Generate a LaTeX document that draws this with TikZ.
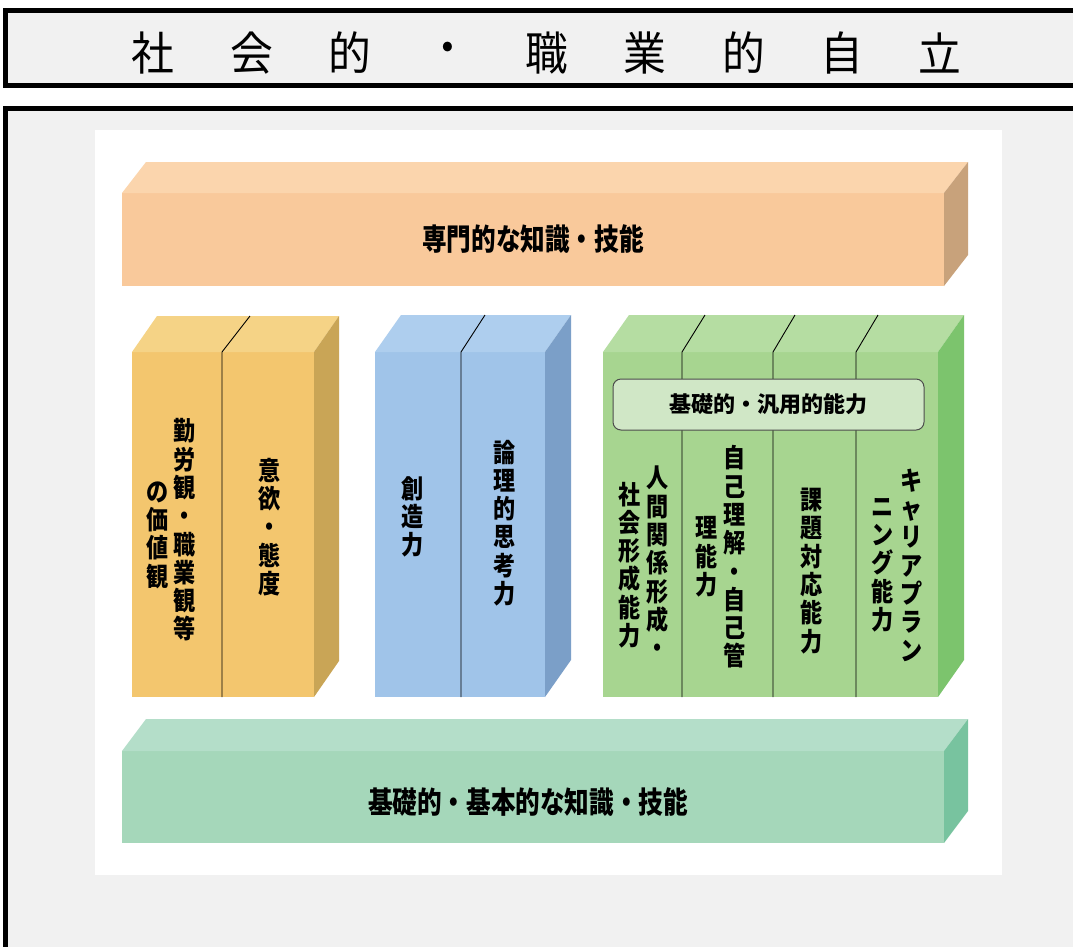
\documentclass[tikz,border=0pt]{standalone}
\usepackage{fontspec}
\newfontfamily\jp{Noto Sans CJK JP}
\definecolor{panelgray}{HTML}{F1F1F1}
\definecolor{orF}{HTML}{F9C99B}\definecolor{orT}{HTML}{FBD5AD}\definecolor{orS}{HTML}{C8A27B}
\definecolor{yeF}{HTML}{F3C66E}\definecolor{yeT}{HTML}{F5D386}\definecolor{yeS}{HTML}{C9A556}
\definecolor{blF}{HTML}{A0C4E9}\definecolor{blT}{HTML}{AECEEE}\definecolor{blS}{HTML}{7B9FC8}
\definecolor{grF}{HTML}{A7D590}\definecolor{grT}{HTML}{B5DDA2}\definecolor{grS}{HTML}{7CC46D}
\definecolor{bgF}{HTML}{A5D7BA}\definecolor{bgT}{HTML}{B4DEC9}\definecolor{bgS}{HTML}{78C39F}
\definecolor{boxF}{HTML}{D0E7C6}
% #1 x1, #2 y1, #3 x2, #4 y2, #5 dx, #6 dy, #7 front, #8 top, #9 side
\newcommand\drawblock[9]{%
  \fill[#7] (#1,#2) rectangle (#3,#4);
  \fill[#8] (#1,#2) -- ({#1+#5},{#2-#6}) -- ({#3+#5},{#2-#6}) -- (#3,#2) -- cycle;
  \fill[#9] (#3,#2) -- ({#3+#5},{#2-#6}) -- ({#3+#5},{#4-#6}) -- (#3,#4) -- cycle;
}
% divider: x, top front y, bottom y, dx, dy
\newcommand\divline[5]{%
  \draw[divider] ({#1+#4},{#2-#5}) -- (#1,#2) -- (#1,#3);
}
\tikzset{
  titlechar/.style={font=\jp\fontsize{46}{50}\selectfont, inner sep=0pt, xscale=0.93, transform shape},
  bartext/.style={font=\jp\bfseries\fontsize{30}{32}\selectfont, inner sep=0pt, xscale=0.82, transform shape},
  vt/.style={font=\jp\bfseries\fontsize{26}{28.3}\selectfont, align=center, inner sep=0pt, xscale=0.85, transform shape},
  rbox/.style={draw=black!70, line width=1pt, fill=boxF, rounded corners=8pt, inner sep=0pt,
    font=\jp\bfseries\fontsize{22}{24}\selectfont},
  divider/.style={draw=black, line width=0.9pt},
  frame/.style={draw=black, line width=5pt, fill=panelgray},
}
\begin{document}
\begin{tikzpicture}[x=1pt,y=-1pt]
\useasboundingbox (0,0) rectangle (1073,946);
\clip (0,0) rectangle (1073,946);
\fill[white] (0,0) rectangle (1073,946);
% frames
\draw[frame] (5.5,10.5) rectangle (1090,85.5);
\draw[frame] (5.5,108.5) rectangle (1090,980);
% title
\foreach \c [count=\i from 0] in {社,会,的,・,職,業,的,自,立}
  \node[titlechar] (t\i) at ({153+98.4*\i},53) {\c};
% white panel
\fill[white] (95,130) rectangle (1002,875);
% top bar
\drawblock{122}{193}{944}{286}{24}{31}{orF}{orT}{orS}
\node[bartext] (senmon) at (533,239) {専門的な知識・技能};
% yellow block
\drawblock{132}{352}{314}{697}{25}{36}{yeF}{yeT}{yeS}
\divline{222}{352}{697}{28}{36}
\node[vt] (y1) at (185,530) {勤\\労\\観\\・\\職\\業\\観\\等};
\node[vt] (y2) at (158,535) {の\\価\\値\\観};
\node[vt] (y3) at (270,527) {意\\欲\\・\\態\\度};
% blue block
\drawblock{375}{352}{545}{697}{26}{37}{blF}{blT}{blS}
\divline{461}{352}{697}{24}{37}
\node[vt] (b1) at (413,517) {創\\造\\力};
\node[vt] (b2) at (505,523) {論\\理\\的\\思\\考\\力};
% green block
\drawblock{603}{352}{938}{697}{26}{37}{grF}{grT}{grS}
\divline{682}{352}{697}{23}{37}
\divline{773}{352}{697}{22}{37}
\divline{856}{352}{697}{22}{37}
\node[rbox, minimum width=311pt, minimum height=51pt] (hanyo) at (768.5,404.5) {基礎的・汎用的能力};
\node[vt] (g1) at (658,562) {人\\間\\関\\係\\形\\成\\・};
\node[vt] (g2) at (630,565) {社\\会\\形\\成\\能\\力};
\node[vt] (g3) at (735,557) {自\\己\\理\\解\\・\\自\\己\\管};
\node[vt] (g4) at (707,557) {理\\能\\力};
\node[vt] (g5) at (812,571) {課\\題\\対\\応\\能\\力};
\node[vt] (g6) at (912,565) {キ\\ャ\\リ\\ア\\プ\\ラ\\ン};
\node[vt] (g7) at (883,565) {ニ\\ン\\グ\\能\\力};
% bottom bar
\drawblock{122}{751}{944}{843}{24}{32}{bgF}{bgT}{bgS}
\node[bartext] (kiso) at (528,802) {基礎的・基本的な知識・技能};
\end{tikzpicture}
\end{document}
